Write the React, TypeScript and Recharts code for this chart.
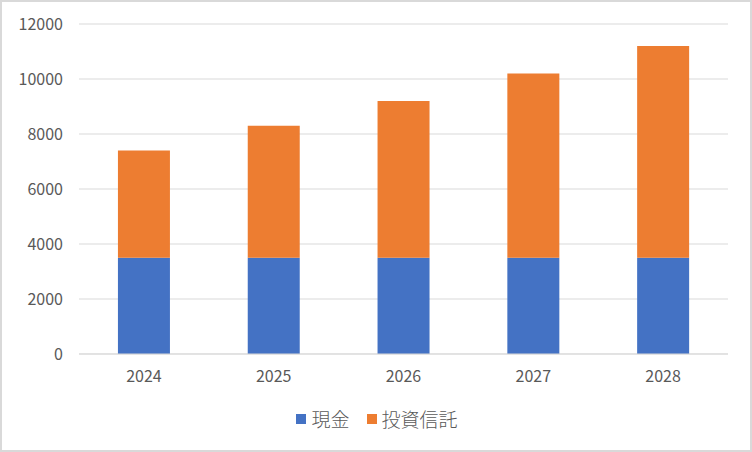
import { BarChart, Bar, XAxis, YAxis, CartesianGrid, Legend } from "recharts";

const years = ["2024", "2025", "2026", "2027", "2028"];
const cash = [3500, 3500, 3500, 3500, 3500];
const funds = [3900, 4800, 5700, 6700, 7700];
const yTicks = [0, 2000, 4000, 6000, 8000, 10000, 12000];

const series = [
  { key: "cash", name: "現金", color: "#4472C4" },
  { key: "funds", name: "投資信託", color: "#ED7D31" },
];

const data = years.map((year, i) => ({ year, cash: cash[i], funds: funds[i] }));

const font = "'Noto Sans CJK JP', 'Noto Sans', sans-serif";

function LegendBox() {
  return (
    <div
      style={{
        height: 41,
        paddingLeft: 24,
        display: "flex",
        alignItems: "center",
        justifyContent: "center",
        gap: 17,
        fontFamily: font,
        fontSize: 19,
        fontWeight: 300,
        color: "#595959",
      }}
    >
      {series.map((s) => (
        <div key={s.key} style={{ display: "flex", alignItems: "center", gap: 5 }}>
          <span style={{ width: 10, height: 10, background: s.color, display: "inline-block" }} />
          <span>{s.name}</span>
        </div>
      ))}
    </div>
  );
}

export default function App() {
  return (
    <div
      style={{
        position: "fixed",
        left: 0,
        top: 0,
        width: 752,
        height: 452,
        boxSizing: "border-box",
        border: "2px solid #d9d9d9",
        background: "#fff",
      }}
    >
      <BarChart
        width={748}
        height={448}
        data={data}
        margin={{ top: 22, right: 22, left: 0, bottom: 11 }}
        barCategoryGap="30%"
      >
        <CartesianGrid vertical={false} stroke="#d9d9d9" />
        <XAxis
          dataKey="year"
          axisLine={{ stroke: "#d9d9d9" }}
          tickLine={false}
          tickSize={0}
          tickMargin={17}
          height={44}
          tick={{ fill: "#595959", fontSize: 16, fontFamily: font }}
        />
        <YAxis
          domain={[0, 12000]}
          ticks={yTicks}
          width={77}
          axisLine={false}
          tickLine={false}
          tickSize={0}
          tickMargin={16}
          tick={{ fill: "#595959", fontSize: 16, fontFamily: font }}
        />
        <Legend verticalAlign="bottom" height={41} content={<LegendBox />} />
        {series.map((s) => (
          <Bar key={s.key} dataKey={s.key} name={s.name} stackId="a" fill={s.color} isAnimationActive={false} />
        ))}
      </BarChart>
    </div>
  );
}
